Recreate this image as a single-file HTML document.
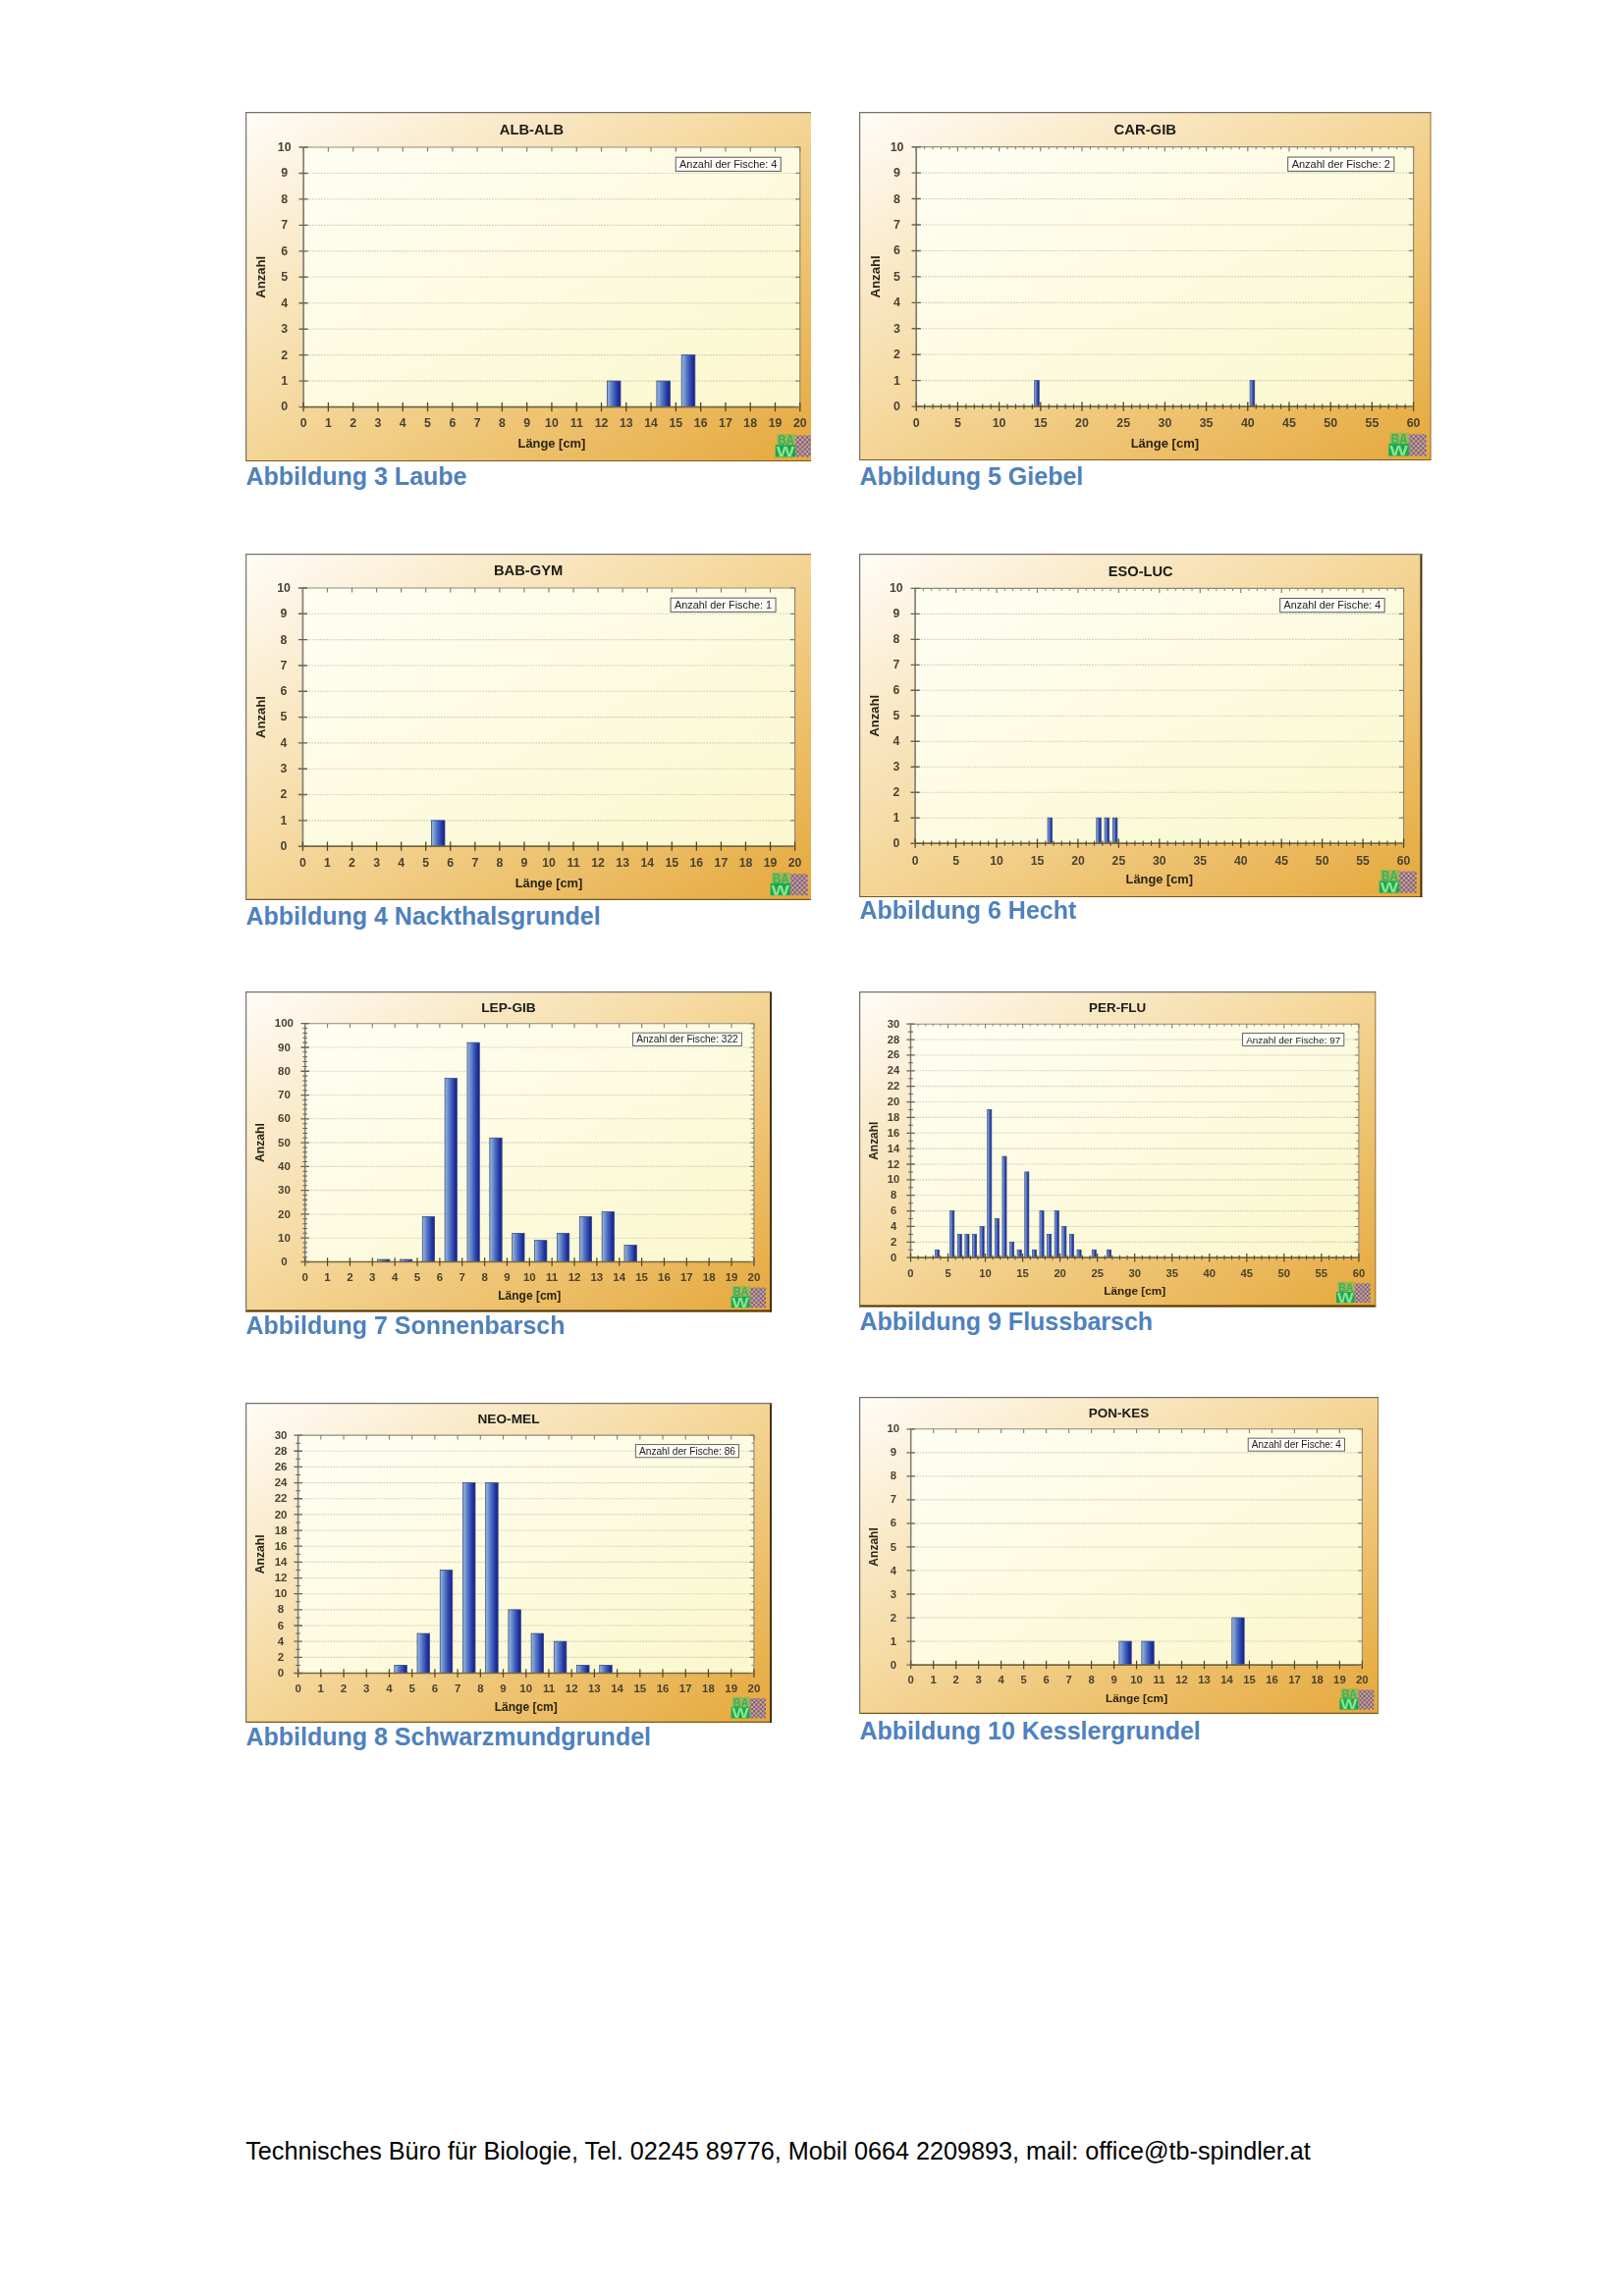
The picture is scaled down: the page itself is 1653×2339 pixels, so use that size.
<!DOCTYPE html>
<html lang="de">
<head>
<meta charset="utf-8">
<title>Längenfrequenzdiagramme</title>
<style>
html,body{margin:0;padding:0;background:#fff;}
body{width:1653px;height:2339px;position:relative;overflow:hidden;font-family:"Liberation Sans",Arial,Helvetica,sans-serif;}
.chart{position:absolute;display:block;overflow:hidden;}
.chart .in{filter:url(#soft);}
.cap{position:absolute;font-size:25px;line-height:25px;font-weight:bold;color:#4f81bd;white-space:nowrap;margin:0;}
.foot{position:absolute;left:250.2px;top:2178.6px;font-size:25.19px;line-height:25px;color:#000;white-space:nowrap;margin:0;}
</style>
</head>
<body>
<svg width="0" height="0" style="position:absolute">
<defs>
<filter id="soft" x="-2%" y="-2%" width="104%" height="104%"><feGaussianBlur stdDeviation="0.55"/></filter>
<linearGradient id="gbg" x1="0" y1="0" x2="1" y2="1">
<stop offset="0" stop-color="#fffdf9"/>
<stop offset="0.5" stop-color="#f4d596"/>
<stop offset="1" stop-color="#e5a83b"/>
</linearGradient>
<linearGradient id="gpl" x1="0" y1="0" x2="1" y2="1">
<stop offset="0" stop-color="#fffef3"/>
<stop offset="0.45" stop-color="#fdfbe2"/>
<stop offset="1" stop-color="#fbf7ce"/>
</linearGradient>
<linearGradient id="gbar" x1="0" y1="0" x2="1" y2="0">
<stop offset="0" stop-color="#9bbce0"/>
<stop offset="0.45" stop-color="#4b6cbf"/>
<stop offset="0.8" stop-color="#2132a2"/>
<stop offset="1" stop-color="#1a2486"/>
</linearGradient>
<pattern id="chk" width="4.8" height="4.8" patternUnits="userSpaceOnUse">
<rect width="4.8" height="4.8" fill="#d9b06a"/>
<rect x="0" y="0" width="2.4" height="2.4" fill="#6d55a5"/>
<rect x="2.4" y="2.4" width="2.4" height="2.4" fill="#6d55a5"/>
</pattern>
<g id="logo">
<rect x="20.4" y="1.4" width="17.6" height="22" fill="url(#chk)"/>
<rect x="1.4" y="0" width="18.8" height="11.4" fill="#3fbf63" opacity="0.4"/>
<rect x="0" y="11.2" width="20.4" height="12.2" fill="#17a955"/>
<text x="2.4" y="10.8" font-size="14.4" font-weight="bold" fill="#35b45c" textLength="16.8" lengthAdjust="spacingAndGlyphs">BA</text>
<text x="1" y="22.8" font-size="15.4" font-weight="bold" fill="#8fe38c" textLength="18.4" lengthAdjust="spacingAndGlyphs">W</text>
</g>
</defs>
</svg>

<svg class="chart" style="left:249.9px;top:114px" width="576.3" height="356.2" viewBox="0 0 576.3 356.2" font-family='"Liberation Sans", Arial, Helvetica, sans-serif'>
<rect x="0" y="0" width="576.3" height="356.2" fill="url(#gbg)"/>
<path d="M0 355.6H576.3" fill="none" stroke="#76581a" stroke-width="1.2"/>
<path d="M0.6 356.2V0.6H576.3" fill="none" stroke="#77726a" stroke-width="1.2"/>
<g class="in">
<rect x="59.1" y="36" width="505.7" height="264.6" fill="url(#gpl)"/>
<path d="M59.1 274.14H564.8M59.1 247.68H564.8M59.1 221.22H564.8M59.1 194.76H564.8M59.1 168.3H564.8M59.1 141.84H564.8M59.1 115.38H564.8M59.1 88.92H564.8M59.1 62.46H564.8" stroke="#a5a593" stroke-width="1.1" stroke-dasharray="1.6 1.4" fill="none" opacity="0.55"/>
<rect x="368.34" y="274.14" width="13.65" height="26.46" fill="url(#gbar)" stroke="#34457f" stroke-width="0.8"/>
<rect x="418.91" y="274.14" width="13.65" height="26.46" fill="url(#gbar)" stroke="#34457f" stroke-width="0.8"/>
<rect x="444.19" y="247.68" width="13.65" height="52.92" fill="url(#gbar)" stroke="#34457f" stroke-width="0.8"/>
<path d="M59.1 36H564.8V300.6" fill="none" stroke="#8f8c7a" stroke-width="1.2"/>
<path d="M59.1 35.4V300.6" fill="none" stroke="#828073" stroke-width="1.7"/>
<path d="M58.25 300.6H565.4" fill="none" stroke="#74683f" stroke-width="1.8"/>
<path d="M59.1 296V305.2M84.38 296V305.2M109.67 296V305.2M134.96 296V305.2M160.24 296V305.2M185.53 296V305.2M210.81 296V305.2M236.1 296V305.2M261.38 296V305.2M286.67 296V305.2M311.95 296V305.2M337.24 296V305.2M362.52 296V305.2M387.81 296V305.2M413.09 296V305.2M438.38 296V305.2M463.66 296V305.2M488.95 296V305.2M514.23 296V305.2M539.52 296V305.2M564.8 296V305.2" stroke="#4f4626" stroke-width="1.3" fill="none"/>
<path d="M54.5 300.6H63.7M54.5 274.14H63.7M54.5 247.68H63.7M54.5 221.22H63.7M54.5 194.76H63.7M54.5 168.3H63.7M54.5 141.84H63.7M54.5 115.38H63.7M54.5 88.92H63.7M54.5 62.46H63.7M54.5 36H63.7" stroke="#66645a" stroke-width="1.4" fill="none"/>
<path d="M59.1 36V40.6M84.38 36V40.6M109.67 36V40.6M134.96 36V40.6M160.24 36V40.6M185.53 36V40.6M210.81 36V40.6M236.1 36V40.6M261.38 36V40.6M286.67 36V40.6M311.95 36V40.6M337.24 36V40.6M362.52 36V40.6M387.81 36V40.6M413.09 36V40.6M438.38 36V40.6M463.66 36V40.6M488.95 36V40.6M514.23 36V40.6M539.52 36V40.6M564.8 36V40.6M560.2 300.6H564.8M560.2 274.14H564.8M560.2 247.68H564.8M560.2 221.22H564.8M560.2 194.76H564.8M560.2 168.3H564.8M560.2 141.84H564.8M560.2 115.38H564.8M560.2 88.92H564.8M560.2 62.46H564.8M560.2 36H564.8" stroke="#85826f" stroke-width="1.2" fill="none"/>
<g font-size="12.31" fill="#4a4332" font-weight="bold">
<g text-anchor="middle">
<text x="59.1" y="320.91">0</text>
<text x="84.38" y="320.91">1</text>
<text x="109.67" y="320.91">2</text>
<text x="134.96" y="320.91">3</text>
<text x="160.24" y="320.91">4</text>
<text x="185.53" y="320.91">5</text>
<text x="210.81" y="320.91">6</text>
<text x="236.1" y="320.91">7</text>
<text x="261.38" y="320.91">8</text>
<text x="286.67" y="320.91">9</text>
<text x="311.95" y="320.91">10</text>
<text x="337.24" y="320.91">11</text>
<text x="362.52" y="320.91">12</text>
<text x="387.81" y="320.91">13</text>
<text x="413.09" y="320.91">14</text>
<text x="438.38" y="320.91">15</text>
<text x="463.66" y="320.91">16</text>
<text x="488.95" y="320.91">17</text>
<text x="514.23" y="320.91">18</text>
<text x="539.52" y="320.91">19</text>
<text x="564.8" y="320.91">20</text>
</g><g text-anchor="middle">
<text x="39.69" y="304.5">0</text>
<text x="39.69" y="278.04">1</text>
<text x="39.69" y="251.58">2</text>
<text x="39.69" y="225.12">3</text>
<text x="39.69" y="198.66">4</text>
<text x="39.69" y="172.2">5</text>
<text x="39.69" y="145.74">6</text>
<text x="39.69" y="119.28">7</text>
<text x="39.69" y="92.82">8</text>
<text x="39.69" y="66.36">9</text>
<text x="39.69" y="39.9">10</text>
</g></g>
<text x="291.45" y="23.09" text-anchor="middle" font-size="14.71" font-weight="bold" fill="#1c1a14">ALB-ALB</text>
<text x="311.95" y="342.12" text-anchor="middle" font-size="12.91" font-weight="bold" fill="#2a2416">Länge [cm]</text>
<text transform="translate(20.31 168.3) rotate(-90)" text-anchor="middle" font-size="13.11" font-weight="bold" fill="#2a2416">Anzahl</text>
<rect x="438.25" y="46.21" width="107.02" height="14.21" fill="#fdfdf6" stroke="#5a5a5a" stroke-width="1"/>
<text x="491.76" y="57.21" text-anchor="middle" font-size="10.91" fill="#222">Anzahl der Fische: 4</text>
<g transform="translate(539.79 328.09) scale(1)"><use href="#logo"/></g>
</g>
</svg>
<svg class="chart" style="left:875.3px;top:114.1px" width="582.5" height="355.3" viewBox="0 0 582.5 355.3" font-family='"Liberation Sans", Arial, Helvetica, sans-serif'>
<rect x="0" y="0" width="582.5" height="355.3" fill="url(#gbg)"/>
<path d="M0 354.7H582.5" fill="none" stroke="#76581a" stroke-width="1.2"/>
<path d="M582 0V355.3" fill="none" stroke="#96763a" stroke-width="1"/>
<path d="M0.6 355.3V0.6H582.5" fill="none" stroke="#77726a" stroke-width="1.2"/>
<g class="in">
<rect x="58.2" y="35.7" width="506.4" height="264.4" fill="url(#gpl)"/>
<path d="M58.2 273.66H564.6M58.2 247.22H564.6M58.2 220.78H564.6M58.2 194.34H564.6M58.2 167.9H564.6M58.2 141.46H564.6M58.2 115.02H564.6M58.2 88.58H564.6M58.2 62.14H564.6" stroke="#a5a593" stroke-width="1.1" stroke-dasharray="1.6 1.4" fill="none" opacity="0.55"/>
<rect x="178.7" y="273.66" width="4.56" height="26.44" fill="url(#gbar)" stroke="#34457f" stroke-width="0.81"/>
<rect x="398.14" y="273.66" width="4.56" height="26.44" fill="url(#gbar)" stroke="#34457f" stroke-width="0.81"/>
<path d="M58.2 35.7H564.6V300.1" fill="none" stroke="#8f8c7a" stroke-width="1.21"/>
<path d="M58.2 35.09V300.1" fill="none" stroke="#828073" stroke-width="1.72"/>
<path d="M57.34 300.1H565.21" fill="none" stroke="#74683f" stroke-width="1.82"/>
<path d="M58.2 295.45V304.75M100.4 295.45V304.75M142.6 295.45V304.75M184.8 295.45V304.75M227 295.45V304.75M269.2 295.45V304.75M311.4 295.45V304.75M353.6 295.45V304.75M395.8 295.45V304.75M438 295.45V304.75M480.2 295.45V304.75M522.4 295.45V304.75M564.6 295.45V304.75" stroke="#4f4626" stroke-width="1.31" fill="none"/>
<path d="M53.55 300.1H62.85M53.55 273.66H62.85M53.55 247.22H62.85M53.55 220.78H62.85M53.55 194.34H62.85M53.55 167.9H62.85M53.55 141.46H62.85M53.55 115.02H62.85M53.55 88.58H62.85M53.55 62.14H62.85M53.55 35.7H62.85" stroke="#66645a" stroke-width="1.42" fill="none"/>
<path d="M58.2 35.7V40.35M100.4 35.7V40.35M142.6 35.7V40.35M184.8 35.7V40.35M227 35.7V40.35M269.2 35.7V40.35M311.4 35.7V40.35M353.6 35.7V40.35M395.8 35.7V40.35M438 35.7V40.35M480.2 35.7V40.35M522.4 35.7V40.35M564.6 35.7V40.35M559.95 300.1H564.6M559.95 273.66H564.6M559.95 247.22H564.6M559.95 220.78H564.6M559.95 194.34H564.6M559.95 167.9H564.6M559.95 141.46H564.6M559.95 115.02H564.6M559.95 88.58H564.6M559.95 62.14H564.6M559.95 35.7H564.6" stroke="#85826f" stroke-width="1.21" fill="none"/>
<path d="M66.64 35.7V38.33M75.08 35.7V38.33M83.52 35.7V38.33M91.96 35.7V38.33M108.84 35.7V38.33M117.28 35.7V38.33M125.72 35.7V38.33M134.16 35.7V38.33M151.04 35.7V38.33M159.48 35.7V38.33M167.92 35.7V38.33M176.36 35.7V38.33M193.24 35.7V38.33M201.68 35.7V38.33M210.12 35.7V38.33M218.56 35.7V38.33M235.44 35.7V38.33M243.88 35.7V38.33M252.32 35.7V38.33M260.76 35.7V38.33M277.64 35.7V38.33M286.08 35.7V38.33M294.52 35.7V38.33M302.96 35.7V38.33M319.84 35.7V38.33M328.28 35.7V38.33M336.72 35.7V38.33M345.16 35.7V38.33M362.04 35.7V38.33M370.48 35.7V38.33M378.92 35.7V38.33M387.36 35.7V38.33M404.24 35.7V38.33M412.68 35.7V38.33M421.12 35.7V38.33M429.56 35.7V38.33M446.44 35.7V38.33M454.88 35.7V38.33M463.32 35.7V38.33M471.76 35.7V38.33M488.64 35.7V38.33M497.08 35.7V38.33M505.52 35.7V38.33M513.96 35.7V38.33M530.84 35.7V38.33M539.28 35.7V38.33M547.72 35.7V38.33M556.16 35.7V38.33" stroke="#85826f" stroke-width="1.01" fill="none"/>
<path d="M66.64 297.47V302.73M75.08 297.47V302.73M83.52 297.47V302.73M91.96 297.47V302.73M108.84 297.47V302.73M117.28 297.47V302.73M125.72 297.47V302.73M134.16 297.47V302.73M151.04 297.47V302.73M159.48 297.47V302.73M167.92 297.47V302.73M176.36 297.47V302.73M193.24 297.47V302.73M201.68 297.47V302.73M210.12 297.47V302.73M218.56 297.47V302.73M235.44 297.47V302.73M243.88 297.47V302.73M252.32 297.47V302.73M260.76 297.47V302.73M277.64 297.47V302.73M286.08 297.47V302.73M294.52 297.47V302.73M302.96 297.47V302.73M319.84 297.47V302.73M328.28 297.47V302.73M336.72 297.47V302.73M345.16 297.47V302.73M362.04 297.47V302.73M370.48 297.47V302.73M378.92 297.47V302.73M387.36 297.47V302.73M404.24 297.47V302.73M412.68 297.47V302.73M421.12 297.47V302.73M429.56 297.47V302.73M446.44 297.47V302.73M454.88 297.47V302.73M463.32 297.47V302.73M471.76 297.47V302.73M488.64 297.47V302.73M497.08 297.47V302.73M505.52 297.47V302.73M513.96 297.47V302.73M530.84 297.47V302.73M539.28 297.47V302.73M547.72 297.47V302.73M556.16 297.47V302.73" stroke="#4f4a33" stroke-width="1.11" fill="none"/>
<g font-size="12.44" fill="#4a4332" font-weight="bold">
<g text-anchor="middle">
<text x="58.2" y="321.44">0</text>
<text x="100.4" y="321.44">5</text>
<text x="142.6" y="321.44">10</text>
<text x="184.8" y="321.44">15</text>
<text x="227" y="321.44">20</text>
<text x="269.2" y="321.44">25</text>
<text x="311.4" y="321.44">30</text>
<text x="353.6" y="321.44">35</text>
<text x="395.8" y="321.44">40</text>
<text x="438" y="321.44">45</text>
<text x="480.2" y="321.44">50</text>
<text x="522.4" y="321.44">55</text>
<text x="564.6" y="321.44">60</text>
</g><g text-anchor="middle">
<text x="38.58" y="304.04">0</text>
<text x="38.58" y="277.6">1</text>
<text x="38.58" y="251.16">2</text>
<text x="38.58" y="224.72">3</text>
<text x="38.58" y="198.28">4</text>
<text x="38.58" y="171.84">5</text>
<text x="38.58" y="145.4">6</text>
<text x="38.58" y="118.96">7</text>
<text x="38.58" y="92.52">8</text>
<text x="38.58" y="66.08">9</text>
<text x="38.58" y="39.64">10</text>
</g></g>
<text x="291.25" y="22.65" text-anchor="middle" font-size="14.87" font-weight="bold" fill="#1c1a14">CAR-GIB</text>
<text x="311.4" y="342.07" text-anchor="middle" font-size="13.05" font-weight="bold" fill="#2a2416">Länge [cm]</text>
<text transform="translate(20.53 167.9) rotate(-90)" text-anchor="middle" font-size="13.25" font-weight="bold" fill="#2a2416">Anzahl</text>
<rect x="436.69" y="46.02" width="108.17" height="14.36" fill="#fdfdf6" stroke="#5a5a5a" stroke-width="1.01"/>
<text x="490.78" y="57.14" text-anchor="middle" font-size="11.02" fill="#222">Anzahl der Fische: 2</text>
<g transform="translate(539.32 326.88) scale(1.01)"><use href="#logo"/></g>
</g>
</svg>
<svg class="chart" style="left:249.9px;top:563.9px" width="576.2" height="352.9" viewBox="0 0 576.2 352.9" font-family='"Liberation Sans", Arial, Helvetica, sans-serif'>
<rect x="0" y="0" width="576.2" height="352.9" fill="url(#gbg)"/>
<path d="M0 352.3H576.2" fill="none" stroke="#76581a" stroke-width="1.2"/>
<path d="M0.6 352.9V0.6H576.2" fill="none" stroke="#77726a" stroke-width="1.2"/>
<g class="in">
<rect x="58.4" y="35" width="501.2" height="263.2" fill="url(#gpl)"/>
<path d="M58.4 271.88H559.6M58.4 245.56H559.6M58.4 219.24H559.6M58.4 192.92H559.6M58.4 166.6H559.6M58.4 140.28H559.6M58.4 113.96H559.6M58.4 87.64H559.6M58.4 61.32H559.6" stroke="#a5a593" stroke-width="1.1" stroke-dasharray="1.6 1.4" fill="none" opacity="0.55"/>
<rect x="189.46" y="271.88" width="13.53" height="26.32" fill="url(#gbar)" stroke="#34457f" stroke-width="0.8"/>
<path d="M58.4 35H559.6V298.2" fill="none" stroke="#8f8c7a" stroke-width="1.2"/>
<path d="M58.4 34.4V298.2" fill="none" stroke="#828073" stroke-width="1.7"/>
<path d="M57.55 298.2H560.2" fill="none" stroke="#74683f" stroke-width="1.8"/>
<path d="M58.4 293.6V302.8M83.46 293.6V302.8M108.52 293.6V302.8M133.58 293.6V302.8M158.64 293.6V302.8M183.7 293.6V302.8M208.76 293.6V302.8M233.82 293.6V302.8M258.88 293.6V302.8M283.94 293.6V302.8M309 293.6V302.8M334.06 293.6V302.8M359.12 293.6V302.8M384.18 293.6V302.8M409.24 293.6V302.8M434.3 293.6V302.8M459.36 293.6V302.8M484.42 293.6V302.8M509.48 293.6V302.8M534.54 293.6V302.8M559.6 293.6V302.8" stroke="#4f4626" stroke-width="1.3" fill="none"/>
<path d="M53.8 298.2H63M53.8 271.88H63M53.8 245.56H63M53.8 219.24H63M53.8 192.92H63M53.8 166.6H63M53.8 140.28H63M53.8 113.96H63M53.8 87.64H63M53.8 61.32H63M53.8 35H63" stroke="#66645a" stroke-width="1.4" fill="none"/>
<path d="M58.4 35V39.6M83.46 35V39.6M108.52 35V39.6M133.58 35V39.6M158.64 35V39.6M183.7 35V39.6M208.76 35V39.6M233.82 35V39.6M258.88 35V39.6M283.94 35V39.6M309 35V39.6M334.06 35V39.6M359.12 35V39.6M384.18 35V39.6M409.24 35V39.6M434.3 35V39.6M459.36 35V39.6M484.42 35V39.6M509.48 35V39.6M534.54 35V39.6M559.6 35V39.6M555 298.2H559.6M555 271.88H559.6M555 245.56H559.6M555 219.24H559.6M555 192.92H559.6M555 166.6H559.6M555 140.28H559.6M555 113.96H559.6M555 87.64H559.6M555 61.32H559.6M555 35H559.6" stroke="#85826f" stroke-width="1.2" fill="none"/>
<g font-size="12.3" fill="#4a4332" font-weight="bold">
<g text-anchor="middle">
<text x="58.4" y="319.31">0</text>
<text x="83.46" y="319.31">1</text>
<text x="108.52" y="319.31">2</text>
<text x="133.58" y="319.31">3</text>
<text x="158.64" y="319.31">4</text>
<text x="183.7" y="319.31">5</text>
<text x="208.76" y="319.31">6</text>
<text x="233.82" y="319.31">7</text>
<text x="258.88" y="319.31">8</text>
<text x="283.94" y="319.31">9</text>
<text x="309" y="319.31">10</text>
<text x="334.06" y="319.31">11</text>
<text x="359.12" y="319.31">12</text>
<text x="384.18" y="319.31">13</text>
<text x="409.24" y="319.31">14</text>
<text x="434.3" y="319.31">15</text>
<text x="459.36" y="319.31">16</text>
<text x="484.42" y="319.31">17</text>
<text x="509.48" y="319.31">18</text>
<text x="534.54" y="319.31">19</text>
<text x="559.6" y="319.31">20</text>
</g><g text-anchor="middle">
<text x="38.99" y="302.1">0</text>
<text x="38.99" y="275.78">1</text>
<text x="38.99" y="249.46">2</text>
<text x="38.99" y="223.14">3</text>
<text x="38.99" y="196.82">4</text>
<text x="38.99" y="170.5">5</text>
<text x="38.99" y="144.18">6</text>
<text x="38.99" y="117.86">7</text>
<text x="38.99" y="91.54">8</text>
<text x="38.99" y="65.22">9</text>
<text x="38.99" y="38.9">10</text>
</g></g>
<text x="288.1" y="22.1" text-anchor="middle" font-size="14.71" font-weight="bold" fill="#1c1a14">BAB-GYM</text>
<text x="309" y="339.71" text-anchor="middle" font-size="12.9" font-weight="bold" fill="#2a2416">Länge [cm]</text>
<text transform="translate(20.31 166.6) rotate(-90)" text-anchor="middle" font-size="13.1" font-weight="bold" fill="#2a2416">Anzahl</text>
<rect x="433.08" y="45.2" width="107" height="14.2" fill="#fdfdf6" stroke="#5a5a5a" stroke-width="1"/>
<text x="486.57" y="56.21" text-anchor="middle" font-size="10.9" fill="#222">Anzahl der Fische: 1</text>
<g transform="translate(534.59 324.79) scale(1)"><use href="#logo"/></g>
</g>
</svg>
<svg class="chart" style="left:875.4px;top:563.9px" width="573.4" height="350.2" viewBox="0 0 573.4 350.2" font-family='"Liberation Sans", Arial, Helvetica, sans-serif'>
<rect x="0" y="0" width="573.4" height="350.2" fill="url(#gbg)"/>
<path d="M0 349.6H573.4" fill="none" stroke="#76581a" stroke-width="1.2"/>
<path d="M572.45 0V350.2" fill="none" stroke="#3b2a10" stroke-width="1.9"/>
<path d="M0.6 350.2V0.6H573.4" fill="none" stroke="#77726a" stroke-width="1.2"/>
<g class="in">
<rect x="57.1" y="35.4" width="497.5" height="259.8" fill="url(#gpl)"/>
<path d="M57.1 269.22H554.6M57.1 243.24H554.6M57.1 217.26H554.6M57.1 191.28H554.6M57.1 165.3H554.6M57.1 139.32H554.6M57.1 113.34H554.6M57.1 87.36H554.6M57.1 61.38H554.6" stroke="#a5a593" stroke-width="1.1" stroke-dasharray="1.6 1.4" fill="none" opacity="0.55"/>
<rect x="192.07" y="269.22" width="4.48" height="25.98" fill="url(#gbar)" stroke="#34457f" stroke-width="0.8"/>
<rect x="241.82" y="269.22" width="4.48" height="25.98" fill="url(#gbar)" stroke="#34457f" stroke-width="0.8"/>
<rect x="250.12" y="269.22" width="4.48" height="25.98" fill="url(#gbar)" stroke="#34457f" stroke-width="0.8"/>
<rect x="258.41" y="269.22" width="4.48" height="25.98" fill="url(#gbar)" stroke="#34457f" stroke-width="0.8"/>
<path d="M57.1 35.4H554.6V295.2" fill="none" stroke="#8f8c7a" stroke-width="1.19"/>
<path d="M57.1 34.8V295.2" fill="none" stroke="#828073" stroke-width="1.69"/>
<path d="M56.25 295.2H555.2" fill="none" stroke="#74683f" stroke-width="1.79"/>
<path d="M57.1 290.62V299.78M98.56 290.62V299.78M140.02 290.62V299.78M181.48 290.62V299.78M222.93 290.62V299.78M264.39 290.62V299.78M305.85 290.62V299.78M347.31 290.62V299.78M388.77 290.62V299.78M430.23 290.62V299.78M471.68 290.62V299.78M513.14 290.62V299.78M554.6 290.62V299.78" stroke="#4f4626" stroke-width="1.29" fill="none"/>
<path d="M52.52 295.2H61.68M52.52 269.22H61.68M52.52 243.24H61.68M52.52 217.26H61.68M52.52 191.28H61.68M52.52 165.3H61.68M52.52 139.32H61.68M52.52 113.34H61.68M52.52 87.36H61.68M52.52 61.38H61.68M52.52 35.4H61.68" stroke="#66645a" stroke-width="1.39" fill="none"/>
<path d="M57.1 35.4V39.98M98.56 35.4V39.98M140.02 35.4V39.98M181.48 35.4V39.98M222.93 35.4V39.98M264.39 35.4V39.98M305.85 35.4V39.98M347.31 35.4V39.98M388.77 35.4V39.98M430.23 35.4V39.98M471.68 35.4V39.98M513.14 35.4V39.98M554.6 35.4V39.98M550.02 295.2H554.6M550.02 269.22H554.6M550.02 243.24H554.6M550.02 217.26H554.6M550.02 191.28H554.6M550.02 165.3H554.6M550.02 139.32H554.6M550.02 113.34H554.6M550.02 87.36H554.6M550.02 61.38H554.6M550.02 35.4H554.6" stroke="#85826f" stroke-width="1.19" fill="none"/>
<path d="M65.39 35.4V37.99M73.68 35.4V37.99M81.98 35.4V37.99M90.27 35.4V37.99M106.85 35.4V37.99M115.14 35.4V37.99M123.43 35.4V37.99M131.73 35.4V37.99M148.31 35.4V37.99M156.6 35.4V37.99M164.89 35.4V37.99M173.18 35.4V37.99M189.77 35.4V37.99M198.06 35.4V37.99M206.35 35.4V37.99M214.64 35.4V37.99M231.23 35.4V37.99M239.52 35.4V37.99M247.81 35.4V37.99M256.1 35.4V37.99M272.68 35.4V37.99M280.98 35.4V37.99M289.27 35.4V37.99M297.56 35.4V37.99M314.14 35.4V37.99M322.43 35.4V37.99M330.73 35.4V37.99M339.02 35.4V37.99M355.6 35.4V37.99M363.89 35.4V37.99M372.18 35.4V37.99M380.48 35.4V37.99M397.06 35.4V37.99M405.35 35.4V37.99M413.64 35.4V37.99M421.93 35.4V37.99M438.52 35.4V37.99M446.81 35.4V37.99M455.1 35.4V37.99M463.39 35.4V37.99M479.97 35.4V37.99M488.27 35.4V37.99M496.56 35.4V37.99M504.85 35.4V37.99M521.43 35.4V37.99M529.72 35.4V37.99M538.02 35.4V37.99M546.31 35.4V37.99" stroke="#85826f" stroke-width="1" fill="none"/>
<path d="M65.39 292.61V297.79M73.68 292.61V297.79M81.98 292.61V297.79M90.27 292.61V297.79M106.85 292.61V297.79M115.14 292.61V297.79M123.43 292.61V297.79M131.73 292.61V297.79M148.31 292.61V297.79M156.6 292.61V297.79M164.89 292.61V297.79M173.18 292.61V297.79M189.77 292.61V297.79M198.06 292.61V297.79M206.35 292.61V297.79M214.64 292.61V297.79M231.23 292.61V297.79M239.52 292.61V297.79M247.81 292.61V297.79M256.1 292.61V297.79M272.68 292.61V297.79M280.98 292.61V297.79M289.27 292.61V297.79M297.56 292.61V297.79M314.14 292.61V297.79M322.43 292.61V297.79M330.73 292.61V297.79M339.02 292.61V297.79M355.6 292.61V297.79M363.89 292.61V297.79M372.18 292.61V297.79M380.48 292.61V297.79M397.06 292.61V297.79M405.35 292.61V297.79M413.64 292.61V297.79M421.93 292.61V297.79M438.52 292.61V297.79M446.81 292.61V297.79M455.1 292.61V297.79M463.39 292.61V297.79M479.97 292.61V297.79M488.27 292.61V297.79M496.56 292.61V297.79M504.85 292.61V297.79M521.43 292.61V297.79M529.72 292.61V297.79M538.02 292.61V297.79M546.31 292.61V297.79" stroke="#4f4a33" stroke-width="1.1" fill="none"/>
<g font-size="12.24" fill="#4a4332" font-weight="bold">
<g text-anchor="middle">
<text x="57.1" y="316.7">0</text>
<text x="98.56" y="316.7">5</text>
<text x="140.02" y="316.7">10</text>
<text x="181.48" y="316.7">15</text>
<text x="222.93" y="316.7">20</text>
<text x="264.39" y="316.7">25</text>
<text x="305.85" y="316.7">30</text>
<text x="347.31" y="316.7">35</text>
<text x="388.77" y="316.7">40</text>
<text x="430.23" y="316.7">45</text>
<text x="471.68" y="316.7">50</text>
<text x="513.14" y="316.7">55</text>
<text x="554.6" y="316.7">60</text>
</g><g text-anchor="middle">
<text x="37.79" y="299.08">0</text>
<text x="37.79" y="273.1">1</text>
<text x="37.79" y="247.12">2</text>
<text x="37.79" y="221.14">3</text>
<text x="37.79" y="195.16">4</text>
<text x="37.79" y="169.18">5</text>
<text x="37.79" y="143.2">6</text>
<text x="37.79" y="117.22">7</text>
<text x="37.79" y="91.24">8</text>
<text x="37.79" y="65.26">9</text>
<text x="37.79" y="39.28">10</text>
</g></g>
<text x="286.7" y="22.56" text-anchor="middle" font-size="14.63" font-weight="bold" fill="#1c1a14">ESO-LUC</text>
<text x="305.85" y="336.51" text-anchor="middle" font-size="12.84" font-weight="bold" fill="#2a2416">Länge [cm]</text>
<text transform="translate(20.21 165.3) rotate(-90)" text-anchor="middle" font-size="13.04" font-weight="bold" fill="#2a2416">Anzahl</text>
<rect x="428.69" y="45.55" width="106.48" height="14.14" fill="#fdfdf6" stroke="#5a5a5a" stroke-width="1"/>
<text x="481.93" y="56.5" text-anchor="middle" font-size="10.85" fill="#222">Anzahl der Fische: 4</text>
<g transform="translate(529.71 322.23) scale(1)"><use href="#logo"/></g>
</g>
</svg>
<svg class="chart" style="left:249.9px;top:1010.3px" width="536" height="326.5" viewBox="0 0 536 326.5" font-family='"Liberation Sans", Arial, Helvetica, sans-serif'>
<rect x="0" y="0" width="536" height="326.5" fill="url(#gbg)"/>
<path d="M0 325.5H536" fill="none" stroke="#4d3304" stroke-width="2"/>
<path d="M535.05 0V326.5" fill="none" stroke="#3b2a10" stroke-width="1.9"/>
<path d="M0.6 326.5V0.6H536" fill="none" stroke="#77726a" stroke-width="1.2"/>
<g class="in">
<rect x="60.7" y="32.7" width="457.2" height="242.8" fill="url(#gpl)"/>
<path d="M60.7 251.22H517.9M60.7 226.94H517.9M60.7 202.66H517.9M60.7 178.38H517.9M60.7 154.1H517.9M60.7 129.82H517.9M60.7 105.54H517.9M60.7 81.26H517.9M60.7 56.98H517.9" stroke="#a5a593" stroke-width="1.1" stroke-dasharray="1.6 1.4" fill="none" opacity="0.55"/>
<rect x="134.54" y="273.07" width="12.34" height="2.43" fill="url(#gbar)" stroke="#34457f" stroke-width="0.74"/>
<rect x="157.4" y="273.07" width="12.34" height="2.43" fill="url(#gbar)" stroke="#34457f" stroke-width="0.74"/>
<rect x="180.26" y="229.37" width="12.34" height="46.13" fill="url(#gbar)" stroke="#34457f" stroke-width="0.74"/>
<rect x="203.12" y="88.54" width="12.34" height="186.96" fill="url(#gbar)" stroke="#34457f" stroke-width="0.74"/>
<rect x="225.98" y="52.12" width="12.34" height="223.38" fill="url(#gbar)" stroke="#34457f" stroke-width="0.74"/>
<rect x="248.84" y="149.24" width="12.34" height="126.26" fill="url(#gbar)" stroke="#34457f" stroke-width="0.74"/>
<rect x="271.7" y="246.36" width="12.34" height="29.14" fill="url(#gbar)" stroke="#34457f" stroke-width="0.74"/>
<rect x="294.56" y="253.65" width="12.34" height="21.85" fill="url(#gbar)" stroke="#34457f" stroke-width="0.74"/>
<rect x="317.42" y="246.36" width="12.34" height="29.14" fill="url(#gbar)" stroke="#34457f" stroke-width="0.74"/>
<rect x="340.28" y="229.37" width="12.34" height="46.13" fill="url(#gbar)" stroke="#34457f" stroke-width="0.74"/>
<rect x="363.14" y="224.51" width="12.34" height="50.99" fill="url(#gbar)" stroke="#34457f" stroke-width="0.74"/>
<rect x="386" y="258.5" width="12.34" height="17" fill="url(#gbar)" stroke="#34457f" stroke-width="0.74"/>
<path d="M60.7 32.7H517.9V275.5" fill="none" stroke="#8f8c7a" stroke-width="1.12"/>
<path d="M60.7 32.14V275.5" fill="none" stroke="#828073" stroke-width="1.58"/>
<path d="M59.91 275.5H518.46" fill="none" stroke="#74683f" stroke-width="1.68"/>
<path d="M60.7 271.22V279.78M83.56 271.22V279.78M106.42 271.22V279.78M129.28 271.22V279.78M152.14 271.22V279.78M175 271.22V279.78M197.86 271.22V279.78M220.72 271.22V279.78M243.58 271.22V279.78M266.44 271.22V279.78M289.3 271.22V279.78M312.16 271.22V279.78M335.02 271.22V279.78M357.88 271.22V279.78M380.74 271.22V279.78M403.6 271.22V279.78M426.46 271.22V279.78M449.32 271.22V279.78M472.18 271.22V279.78M495.04 271.22V279.78M517.9 271.22V279.78" stroke="#4f4626" stroke-width="1.21" fill="none"/>
<path d="M56.42 275.5H64.98M56.42 251.22H64.98M56.42 226.94H64.98M56.42 202.66H64.98M56.42 178.38H64.98M56.42 154.1H64.98M56.42 129.82H64.98M56.42 105.54H64.98M56.42 81.26H64.98M56.42 56.98H64.98M56.42 32.7H64.98" stroke="#66645a" stroke-width="1.3" fill="none"/>
<path d="M58.28 270.64H63.12M58.28 265.79H63.12M58.28 260.93H63.12M58.28 256.08H63.12M58.28 246.36H63.12M58.28 241.51H63.12M58.28 236.65H63.12M58.28 231.8H63.12M58.28 222.08H63.12M58.28 217.23H63.12M58.28 212.37H63.12M58.28 207.52H63.12M58.28 197.8H63.12M58.28 192.95H63.12M58.28 188.09H63.12M58.28 183.24H63.12M58.28 173.52H63.12M58.28 168.67H63.12M58.28 163.81H63.12M58.28 158.96H63.12M58.28 149.24H63.12M58.28 144.39H63.12M58.28 139.53H63.12M58.28 134.68H63.12M58.28 124.96H63.12M58.28 120.11H63.12M58.28 115.25H63.12M58.28 110.4H63.12M58.28 100.68H63.12M58.28 95.83H63.12M58.28 90.97H63.12M58.28 86.12H63.12M58.28 76.4H63.12M58.28 71.55H63.12M58.28 66.69H63.12M58.28 61.84H63.12M58.28 52.12H63.12M58.28 47.27H63.12M58.28 42.41H63.12M58.28 37.56H63.12" stroke="#66645a" stroke-width="1.02" fill="none"/>
<path d="M60.7 32.7V36.98M83.56 32.7V36.98M106.42 32.7V36.98M129.28 32.7V36.98M152.14 32.7V36.98M175 32.7V36.98M197.86 32.7V36.98M220.72 32.7V36.98M243.58 32.7V36.98M266.44 32.7V36.98M289.3 32.7V36.98M312.16 32.7V36.98M335.02 32.7V36.98M357.88 32.7V36.98M380.74 32.7V36.98M403.6 32.7V36.98M426.46 32.7V36.98M449.32 32.7V36.98M472.18 32.7V36.98M495.04 32.7V36.98M517.9 32.7V36.98M513.62 275.5H517.9M513.62 251.22H517.9M513.62 226.94H517.9M513.62 202.66H517.9M513.62 178.38H517.9M513.62 154.1H517.9M513.62 129.82H517.9M513.62 105.54H517.9M513.62 81.26H517.9M513.62 56.98H517.9M513.62 32.7H517.9" stroke="#85826f" stroke-width="1.12" fill="none"/>
<path d="M515.48 270.64H517.9M515.48 265.79H517.9M515.48 260.93H517.9M515.48 256.08H517.9M515.48 246.36H517.9M515.48 241.51H517.9M515.48 236.65H517.9M515.48 231.8H517.9M515.48 222.08H517.9M515.48 217.23H517.9M515.48 212.37H517.9M515.48 207.52H517.9M515.48 197.8H517.9M515.48 192.95H517.9M515.48 188.09H517.9M515.48 183.24H517.9M515.48 173.52H517.9M515.48 168.67H517.9M515.48 163.81H517.9M515.48 158.96H517.9M515.48 149.24H517.9M515.48 144.39H517.9M515.48 139.53H517.9M515.48 134.68H517.9M515.48 124.96H517.9M515.48 120.11H517.9M515.48 115.25H517.9M515.48 110.4H517.9M515.48 100.68H517.9M515.48 95.83H517.9M515.48 90.97H517.9M515.48 86.12H517.9M515.48 76.4H517.9M515.48 71.55H517.9M515.48 66.69H517.9M515.48 61.84H517.9M515.48 52.12H517.9M515.48 47.27H517.9M515.48 42.41H517.9M515.48 37.56H517.9" stroke="#85826f" stroke-width="0.93" fill="none"/>
<g font-size="11.45" fill="#4a4332" font-weight="bold">
<g text-anchor="middle">
<text x="60.7" y="295.13">0</text>
<text x="83.56" y="295.13">1</text>
<text x="106.42" y="295.13">2</text>
<text x="129.28" y="295.13">3</text>
<text x="152.14" y="295.13">4</text>
<text x="175" y="295.13">5</text>
<text x="197.86" y="295.13">6</text>
<text x="220.72" y="295.13">7</text>
<text x="243.58" y="295.13">8</text>
<text x="266.44" y="295.13">9</text>
<text x="289.3" y="295.13">10</text>
<text x="312.16" y="295.13">11</text>
<text x="335.02" y="295.13">12</text>
<text x="357.88" y="295.13">13</text>
<text x="380.74" y="295.13">14</text>
<text x="403.6" y="295.13">15</text>
<text x="426.46" y="295.13">16</text>
<text x="449.32" y="295.13">17</text>
<text x="472.18" y="295.13">18</text>
<text x="495.04" y="295.13">19</text>
<text x="517.9" y="295.13">20</text>
</g><g text-anchor="middle">
<text x="39.4" y="279.13">0</text>
<text x="39.4" y="254.85">10</text>
<text x="39.4" y="230.57">20</text>
<text x="39.4" y="206.29">30</text>
<text x="39.4" y="182.01">40</text>
<text x="39.4" y="157.73">50</text>
<text x="39.4" y="133.45">60</text>
<text x="39.4" y="109.17">70</text>
<text x="39.4" y="84.89">80</text>
<text x="39.4" y="60.61">90</text>
<text x="39.4" y="36.33">100</text>
</g></g>
<text x="268" y="20.7" text-anchor="middle" font-size="13.68" font-weight="bold" fill="#1c1a14">LEP-GIB</text>
<text x="289.3" y="314.12" text-anchor="middle" font-size="12" font-weight="bold" fill="#2a2416">Länge [cm]</text>
<text transform="translate(18.89 154.1) rotate(-90)" text-anchor="middle" font-size="12.19" font-weight="bold" fill="#2a2416">Anzahl</text>
<rect x="394.56" y="42.19" width="110.82" height="13.21" fill="#fdfdf6" stroke="#5a5a5a" stroke-width="0.93"/>
<text x="449.97" y="52.43" text-anchor="middle" font-size="10.14" fill="#222">Anzahl der Fische: 322</text>
<g transform="translate(494.64 300.35) scale(0.93)"><use href="#logo"/></g>
</g>
</svg>
<svg class="chart" style="left:875.3px;top:1010px" width="526.3" height="321.6" viewBox="0 0 526.3 321.6" font-family='"Liberation Sans", Arial, Helvetica, sans-serif'>
<rect x="0" y="0" width="526.3" height="321.6" fill="url(#gbg)"/>
<path d="M0 320.6H526.3" fill="none" stroke="#4d3304" stroke-width="2"/>
<path d="M525.8 0V321.6" fill="none" stroke="#96763a" stroke-width="1"/>
<path d="M0.6 321.6V0.6H526.3" fill="none" stroke="#77726a" stroke-width="1.2"/>
<g class="in">
<rect x="52.5" y="33.2" width="456.4" height="238" fill="url(#gpl)"/>
<path d="M52.5 255.33H508.9M52.5 239.47H508.9M52.5 223.6H508.9M52.5 207.73H508.9M52.5 191.87H508.9M52.5 176H508.9M52.5 160.13H508.9M52.5 144.27H508.9M52.5 128.4H508.9M52.5 112.53H508.9M52.5 96.67H508.9M52.5 80.8H508.9M52.5 64.93H508.9M52.5 49.07H508.9" stroke="#a5a593" stroke-width="1.1" stroke-dasharray="1.6 1.4" fill="none" opacity="0.55"/>
<rect x="77.47" y="263.27" width="4.11" height="7.93" fill="url(#gbar)" stroke="#34457f" stroke-width="0.73"/>
<rect x="92.68" y="223.6" width="4.11" height="47.6" fill="url(#gbar)" stroke="#34457f" stroke-width="0.73"/>
<rect x="100.29" y="247.4" width="4.11" height="23.8" fill="url(#gbar)" stroke="#34457f" stroke-width="0.73"/>
<rect x="107.9" y="247.4" width="4.11" height="23.8" fill="url(#gbar)" stroke="#34457f" stroke-width="0.73"/>
<rect x="115.5" y="247.4" width="4.11" height="23.8" fill="url(#gbar)" stroke="#34457f" stroke-width="0.73"/>
<rect x="123.11" y="239.47" width="4.11" height="31.73" fill="url(#gbar)" stroke="#34457f" stroke-width="0.73"/>
<rect x="130.72" y="120.47" width="4.11" height="150.73" fill="url(#gbar)" stroke="#34457f" stroke-width="0.73"/>
<rect x="138.32" y="231.53" width="4.11" height="39.67" fill="url(#gbar)" stroke="#34457f" stroke-width="0.73"/>
<rect x="145.93" y="168.07" width="4.11" height="103.13" fill="url(#gbar)" stroke="#34457f" stroke-width="0.73"/>
<rect x="153.54" y="255.33" width="4.11" height="15.87" fill="url(#gbar)" stroke="#34457f" stroke-width="0.73"/>
<rect x="161.14" y="263.27" width="4.11" height="7.93" fill="url(#gbar)" stroke="#34457f" stroke-width="0.73"/>
<rect x="168.75" y="183.93" width="4.11" height="87.27" fill="url(#gbar)" stroke="#34457f" stroke-width="0.73"/>
<rect x="176.36" y="263.27" width="4.11" height="7.93" fill="url(#gbar)" stroke="#34457f" stroke-width="0.73"/>
<rect x="183.96" y="223.6" width="4.11" height="47.6" fill="url(#gbar)" stroke="#34457f" stroke-width="0.73"/>
<rect x="191.57" y="247.4" width="4.11" height="23.8" fill="url(#gbar)" stroke="#34457f" stroke-width="0.73"/>
<rect x="199.18" y="223.6" width="4.11" height="47.6" fill="url(#gbar)" stroke="#34457f" stroke-width="0.73"/>
<rect x="206.78" y="239.47" width="4.11" height="31.73" fill="url(#gbar)" stroke="#34457f" stroke-width="0.73"/>
<rect x="214.39" y="247.4" width="4.11" height="23.8" fill="url(#gbar)" stroke="#34457f" stroke-width="0.73"/>
<rect x="222" y="263.27" width="4.11" height="7.93" fill="url(#gbar)" stroke="#34457f" stroke-width="0.73"/>
<rect x="237.21" y="263.27" width="4.11" height="7.93" fill="url(#gbar)" stroke="#34457f" stroke-width="0.73"/>
<rect x="252.42" y="263.27" width="4.11" height="7.93" fill="url(#gbar)" stroke="#34457f" stroke-width="0.73"/>
<path d="M52.5 33.2H508.9V271.2" fill="none" stroke="#8f8c7a" stroke-width="1.1"/>
<path d="M52.5 32.65V271.2" fill="none" stroke="#828073" stroke-width="1.55"/>
<path d="M51.72 271.2H509.45" fill="none" stroke="#74683f" stroke-width="1.64"/>
<path d="M52.5 267V275.4M90.53 267V275.4M128.57 267V275.4M166.6 267V275.4M204.63 267V275.4M242.67 267V275.4M280.7 267V275.4M318.73 267V275.4M356.77 267V275.4M394.8 267V275.4M432.83 267V275.4M470.87 267V275.4M508.9 267V275.4" stroke="#4f4626" stroke-width="1.19" fill="none"/>
<path d="M48.3 271.2H56.7M48.3 255.33H56.7M48.3 239.47H56.7M48.3 223.6H56.7M48.3 207.73H56.7M48.3 191.87H56.7M48.3 176H56.7M48.3 160.13H56.7M48.3 144.27H56.7M48.3 128.4H56.7M48.3 112.53H56.7M48.3 96.67H56.7M48.3 80.8H56.7M48.3 64.93H56.7M48.3 49.07H56.7M48.3 33.2H56.7" stroke="#66645a" stroke-width="1.28" fill="none"/>
<path d="M50.12 263.27H54.88M50.12 247.4H54.88M50.12 231.53H54.88M50.12 215.67H54.88M50.12 199.8H54.88M50.12 183.93H54.88M50.12 168.07H54.88M50.12 152.2H54.88M50.12 136.33H54.88M50.12 120.47H54.88M50.12 104.6H54.88M50.12 88.73H54.88M50.12 72.87H54.88M50.12 57H54.88M50.12 41.13H54.88" stroke="#66645a" stroke-width="1.01" fill="none"/>
<path d="M52.5 33.2V37.4M90.53 33.2V37.4M128.57 33.2V37.4M166.6 33.2V37.4M204.63 33.2V37.4M242.67 33.2V37.4M280.7 33.2V37.4M318.73 33.2V37.4M356.77 33.2V37.4M394.8 33.2V37.4M432.83 33.2V37.4M470.87 33.2V37.4M508.9 33.2V37.4M504.7 271.2H508.9M504.7 255.33H508.9M504.7 239.47H508.9M504.7 223.6H508.9M504.7 207.73H508.9M504.7 191.87H508.9M504.7 176H508.9M504.7 160.13H508.9M504.7 144.27H508.9M504.7 128.4H508.9M504.7 112.53H508.9M504.7 96.67H508.9M504.7 80.8H508.9M504.7 64.93H508.9M504.7 49.07H508.9M504.7 33.2H508.9" stroke="#85826f" stroke-width="1.1" fill="none"/>
<path d="M60.11 33.2V35.58M67.71 33.2V35.58M75.32 33.2V35.58M82.93 33.2V35.58M98.14 33.2V35.58M105.75 33.2V35.58M113.35 33.2V35.58M120.96 33.2V35.58M136.17 33.2V35.58M143.78 33.2V35.58M151.39 33.2V35.58M158.99 33.2V35.58M174.21 33.2V35.58M181.81 33.2V35.58M189.42 33.2V35.58M197.03 33.2V35.58M212.24 33.2V35.58M219.85 33.2V35.58M227.45 33.2V35.58M235.06 33.2V35.58M250.27 33.2V35.58M257.88 33.2V35.58M265.49 33.2V35.58M273.09 33.2V35.58M288.31 33.2V35.58M295.91 33.2V35.58M303.52 33.2V35.58M311.13 33.2V35.58M326.34 33.2V35.58M333.95 33.2V35.58M341.55 33.2V35.58M349.16 33.2V35.58M364.37 33.2V35.58M371.98 33.2V35.58M379.59 33.2V35.58M387.19 33.2V35.58M402.41 33.2V35.58M410.01 33.2V35.58M417.62 33.2V35.58M425.23 33.2V35.58M440.44 33.2V35.58M448.05 33.2V35.58M455.65 33.2V35.58M463.26 33.2V35.58M478.47 33.2V35.58M486.08 33.2V35.58M493.69 33.2V35.58M501.29 33.2V35.58M506.52 263.27H508.9M506.52 247.4H508.9M506.52 231.53H508.9M506.52 215.67H508.9M506.52 199.8H508.9M506.52 183.93H508.9M506.52 168.07H508.9M506.52 152.2H508.9M506.52 136.33H508.9M506.52 120.47H508.9M506.52 104.6H508.9M506.52 88.73H508.9M506.52 72.87H508.9M506.52 57H508.9M506.52 41.13H508.9" stroke="#85826f" stroke-width="0.91" fill="none"/>
<path d="M60.11 268.82V273.58M67.71 268.82V273.58M75.32 268.82V273.58M82.93 268.82V273.58M98.14 268.82V273.58M105.75 268.82V273.58M113.35 268.82V273.58M120.96 268.82V273.58M136.17 268.82V273.58M143.78 268.82V273.58M151.39 268.82V273.58M158.99 268.82V273.58M174.21 268.82V273.58M181.81 268.82V273.58M189.42 268.82V273.58M197.03 268.82V273.58M212.24 268.82V273.58M219.85 268.82V273.58M227.45 268.82V273.58M235.06 268.82V273.58M250.27 268.82V273.58M257.88 268.82V273.58M265.49 268.82V273.58M273.09 268.82V273.58M288.31 268.82V273.58M295.91 268.82V273.58M303.52 268.82V273.58M311.13 268.82V273.58M326.34 268.82V273.58M333.95 268.82V273.58M341.55 268.82V273.58M349.16 268.82V273.58M364.37 268.82V273.58M371.98 268.82V273.58M379.59 268.82V273.58M387.19 268.82V273.58M402.41 268.82V273.58M410.01 268.82V273.58M417.62 268.82V273.58M425.23 268.82V273.58M440.44 268.82V273.58M448.05 268.82V273.58M455.65 268.82V273.58M463.26 268.82V273.58M478.47 268.82V273.58M486.08 268.82V273.58M493.69 268.82V273.58M501.29 268.82V273.58" stroke="#4f4a33" stroke-width="1.01" fill="none"/>
<g font-size="11.24" fill="#4a4332" font-weight="bold">
<g text-anchor="middle">
<text x="52.5" y="290.94">0</text>
<text x="90.53" y="290.94">5</text>
<text x="128.57" y="290.94">10</text>
<text x="166.6" y="290.94">15</text>
<text x="204.63" y="290.94">20</text>
<text x="242.67" y="290.94">25</text>
<text x="280.7" y="290.94">30</text>
<text x="318.73" y="290.94">35</text>
<text x="356.77" y="290.94">40</text>
<text x="394.8" y="290.94">45</text>
<text x="432.83" y="290.94">50</text>
<text x="470.87" y="290.94">55</text>
<text x="508.9" y="290.94">60</text>
</g><g text-anchor="middle">
<text x="35.1" y="274.76">0</text>
<text x="35.1" y="258.9">2</text>
<text x="35.1" y="243.03">4</text>
<text x="35.1" y="227.16">6</text>
<text x="35.1" y="211.3">8</text>
<text x="35.1" y="195.43">10</text>
<text x="35.1" y="179.56">12</text>
<text x="35.1" y="163.7">14</text>
<text x="35.1" y="147.83">16</text>
<text x="35.1" y="131.96">18</text>
<text x="35.1" y="116.1">20</text>
<text x="35.1" y="100.23">22</text>
<text x="35.1" y="84.36">24</text>
<text x="35.1" y="68.5">26</text>
<text x="35.1" y="52.63">28</text>
<text x="35.1" y="36.76">30</text>
</g></g>
<text x="263.15" y="21.41" text-anchor="middle" font-size="13.43" font-weight="bold" fill="#1c1a14">PER-FLU</text>
<text x="280.7" y="309.12" text-anchor="middle" font-size="11.79" font-weight="bold" fill="#2a2416">Länge [cm]</text>
<text transform="translate(18.55 152.2) rotate(-90)" text-anchor="middle" font-size="11.97" font-weight="bold" fill="#2a2416">Anzahl</text>
<rect x="390.56" y="42.52" width="103.27" height="12.97" fill="#fdfdf6" stroke="#5a5a5a" stroke-width="0.91"/>
<text x="442.2" y="52.57" text-anchor="middle" font-size="9.96" fill="#222">Anzahl der Fische: 97</text>
<g transform="translate(486.06 295.92) scale(0.91)"><use href="#logo"/></g>
</g>
</svg>
<svg class="chart" style="left:249.9px;top:1429.1px" width="536" height="325.9" viewBox="0 0 536 325.9" font-family='"Liberation Sans", Arial, Helvetica, sans-serif'>
<rect x="0" y="0" width="536" height="325.9" fill="url(#gbg)"/>
<path d="M0 325.3H536" fill="none" stroke="#76581a" stroke-width="1.2"/>
<path d="M535.05 0V325.9" fill="none" stroke="#3b2a10" stroke-width="1.9"/>
<path d="M0.6 325.9V0.6H536" fill="none" stroke="#77726a" stroke-width="1.2"/>
<g class="in">
<rect x="53.6" y="33.1" width="464.3" height="242.4" fill="url(#gpl)"/>
<path d="M53.6 259.34H517.9M53.6 243.18H517.9M53.6 227.02H517.9M53.6 210.86H517.9M53.6 194.7H517.9M53.6 178.54H517.9M53.6 162.38H517.9M53.6 146.22H517.9M53.6 130.06H517.9M53.6 113.9H517.9M53.6 97.74H517.9M53.6 81.58H517.9M53.6 65.42H517.9M53.6 49.26H517.9" stroke="#a5a593" stroke-width="1.1" stroke-dasharray="1.6 1.4" fill="none" opacity="0.55"/>
<rect x="151.8" y="267.42" width="12.54" height="8.08" fill="url(#gbar)" stroke="#34457f" stroke-width="0.74"/>
<rect x="175.01" y="235.1" width="12.54" height="40.4" fill="url(#gbar)" stroke="#34457f" stroke-width="0.74"/>
<rect x="198.23" y="170.46" width="12.54" height="105.04" fill="url(#gbar)" stroke="#34457f" stroke-width="0.74"/>
<rect x="221.44" y="81.58" width="12.54" height="193.92" fill="url(#gbar)" stroke="#34457f" stroke-width="0.74"/>
<rect x="244.66" y="81.58" width="12.54" height="193.92" fill="url(#gbar)" stroke="#34457f" stroke-width="0.74"/>
<rect x="267.87" y="210.86" width="12.54" height="64.64" fill="url(#gbar)" stroke="#34457f" stroke-width="0.74"/>
<rect x="291.09" y="235.1" width="12.54" height="40.4" fill="url(#gbar)" stroke="#34457f" stroke-width="0.74"/>
<rect x="314.3" y="243.18" width="12.54" height="32.32" fill="url(#gbar)" stroke="#34457f" stroke-width="0.74"/>
<rect x="337.52" y="267.42" width="12.54" height="8.08" fill="url(#gbar)" stroke="#34457f" stroke-width="0.74"/>
<rect x="360.73" y="267.42" width="12.54" height="8.08" fill="url(#gbar)" stroke="#34457f" stroke-width="0.74"/>
<path d="M53.6 33.1H517.9V275.5" fill="none" stroke="#8f8c7a" stroke-width="1.12"/>
<path d="M53.6 32.54V275.5" fill="none" stroke="#828073" stroke-width="1.58"/>
<path d="M52.81 275.5H518.46" fill="none" stroke="#74683f" stroke-width="1.68"/>
<path d="M53.6 271.22V279.78M76.81 271.22V279.78M100.03 271.22V279.78M123.24 271.22V279.78M146.46 271.22V279.78M169.67 271.22V279.78M192.89 271.22V279.78M216.1 271.22V279.78M239.32 271.22V279.78M262.53 271.22V279.78M285.75 271.22V279.78M308.96 271.22V279.78M332.18 271.22V279.78M355.39 271.22V279.78M378.61 271.22V279.78M401.82 271.22V279.78M425.04 271.22V279.78M448.25 271.22V279.78M471.47 271.22V279.78M494.68 271.22V279.78M517.9 271.22V279.78" stroke="#4f4626" stroke-width="1.21" fill="none"/>
<path d="M49.32 275.5H57.88M49.32 259.34H57.88M49.32 243.18H57.88M49.32 227.02H57.88M49.32 210.86H57.88M49.32 194.7H57.88M49.32 178.54H57.88M49.32 162.38H57.88M49.32 146.22H57.88M49.32 130.06H57.88M49.32 113.9H57.88M49.32 97.74H57.88M49.32 81.58H57.88M49.32 65.42H57.88M49.32 49.26H57.88M49.32 33.1H57.88" stroke="#66645a" stroke-width="1.3" fill="none"/>
<path d="M51.18 267.42H56.02M51.18 251.26H56.02M51.18 235.1H56.02M51.18 218.94H56.02M51.18 202.78H56.02M51.18 186.62H56.02M51.18 170.46H56.02M51.18 154.3H56.02M51.18 138.14H56.02M51.18 121.98H56.02M51.18 105.82H56.02M51.18 89.66H56.02M51.18 73.5H56.02M51.18 57.34H56.02M51.18 41.18H56.02" stroke="#66645a" stroke-width="1.02" fill="none"/>
<path d="M53.6 33.1V37.38M76.81 33.1V37.38M100.03 33.1V37.38M123.24 33.1V37.38M146.46 33.1V37.38M169.67 33.1V37.38M192.89 33.1V37.38M216.1 33.1V37.38M239.32 33.1V37.38M262.53 33.1V37.38M285.75 33.1V37.38M308.96 33.1V37.38M332.18 33.1V37.38M355.39 33.1V37.38M378.61 33.1V37.38M401.82 33.1V37.38M425.04 33.1V37.38M448.25 33.1V37.38M471.47 33.1V37.38M494.68 33.1V37.38M517.9 33.1V37.38M513.62 275.5H517.9M513.62 259.34H517.9M513.62 243.18H517.9M513.62 227.02H517.9M513.62 210.86H517.9M513.62 194.7H517.9M513.62 178.54H517.9M513.62 162.38H517.9M513.62 146.22H517.9M513.62 130.06H517.9M513.62 113.9H517.9M513.62 97.74H517.9M513.62 81.58H517.9M513.62 65.42H517.9M513.62 49.26H517.9M513.62 33.1H517.9" stroke="#85826f" stroke-width="1.12" fill="none"/>
<path d="M515.48 267.42H517.9M515.48 251.26H517.9M515.48 235.1H517.9M515.48 218.94H517.9M515.48 202.78H517.9M515.48 186.62H517.9M515.48 170.46H517.9M515.48 154.3H517.9M515.48 138.14H517.9M515.48 121.98H517.9M515.48 105.82H517.9M515.48 89.66H517.9M515.48 73.5H517.9M515.48 57.34H517.9M515.48 41.18H517.9" stroke="#85826f" stroke-width="0.93" fill="none"/>
<g font-size="11.45" fill="#4a4332" font-weight="bold">
<g text-anchor="middle">
<text x="53.6" y="294.67">0</text>
<text x="76.81" y="294.67">1</text>
<text x="100.03" y="294.67">2</text>
<text x="123.24" y="294.67">3</text>
<text x="146.46" y="294.67">4</text>
<text x="169.67" y="294.67">5</text>
<text x="192.89" y="294.67">6</text>
<text x="216.1" y="294.67">7</text>
<text x="239.32" y="294.67">8</text>
<text x="262.53" y="294.67">9</text>
<text x="285.75" y="294.67">10</text>
<text x="308.96" y="294.67">11</text>
<text x="332.18" y="294.67">12</text>
<text x="355.39" y="294.67">13</text>
<text x="378.61" y="294.67">14</text>
<text x="401.82" y="294.67">15</text>
<text x="425.04" y="294.67">16</text>
<text x="448.25" y="294.67">17</text>
<text x="471.47" y="294.67">18</text>
<text x="494.68" y="294.67">19</text>
<text x="517.9" y="294.67">20</text>
</g><g text-anchor="middle">
<text x="36" y="279.13">0</text>
<text x="36" y="262.97">2</text>
<text x="36" y="246.81">4</text>
<text x="36" y="230.65">6</text>
<text x="36" y="214.49">8</text>
<text x="36" y="198.33">10</text>
<text x="36" y="182.17">12</text>
<text x="36" y="166.01">14</text>
<text x="36" y="149.85">16</text>
<text x="36" y="133.69">18</text>
<text x="36" y="117.53">20</text>
<text x="36" y="101.37">22</text>
<text x="36" y="85.21">24</text>
<text x="36" y="69.05">26</text>
<text x="36" y="52.89">28</text>
<text x="36" y="36.73">30</text>
</g></g>
<text x="268" y="21.1" text-anchor="middle" font-size="13.68" font-weight="bold" fill="#1c1a14">NEO-MEL</text>
<text x="285.75" y="314.12" text-anchor="middle" font-size="12" font-weight="bold" fill="#2a2416">Länge [cm]</text>
<text transform="translate(18.89 154.3) rotate(-90)" text-anchor="middle" font-size="12.19" font-weight="bold" fill="#2a2416">Anzahl</text>
<rect x="397.38" y="42.59" width="105.18" height="13.21" fill="#fdfdf6" stroke="#5a5a5a" stroke-width="0.93"/>
<text x="449.97" y="52.83" text-anchor="middle" font-size="10.14" fill="#222">Anzahl der Fische: 86</text>
<g transform="translate(494.64 299.75) scale(0.93)"><use href="#logo"/></g>
</g>
</svg>
<svg class="chart" style="left:875.3px;top:1423px" width="529.1" height="322.9" viewBox="0 0 529.1 322.9" font-family='"Liberation Sans", Arial, Helvetica, sans-serif'>
<rect x="0" y="0" width="529.1" height="322.9" fill="url(#gbg)"/>
<path d="M0 322.3H529.1" fill="none" stroke="#76581a" stroke-width="1.2"/>
<path d="M528.6 0V322.9" fill="none" stroke="#96763a" stroke-width="1"/>
<path d="M0.6 322.9V0.6H529.1" fill="none" stroke="#77726a" stroke-width="1.2"/>
<g class="in">
<rect x="52.7" y="32.8" width="459.7" height="240.3" fill="url(#gpl)"/>
<path d="M52.7 249.07H512.4M52.7 225.04H512.4M52.7 201.01H512.4M52.7 176.98H512.4M52.7 152.95H512.4M52.7 128.92H512.4M52.7 104.89H512.4M52.7 80.86H512.4M52.7 56.83H512.4" stroke="#a5a593" stroke-width="1.1" stroke-dasharray="1.6 1.4" fill="none" opacity="0.55"/>
<rect x="264.85" y="249.07" width="12.41" height="24.03" fill="url(#gbar)" stroke="#34457f" stroke-width="0.73"/>
<rect x="287.84" y="249.07" width="12.41" height="24.03" fill="url(#gbar)" stroke="#34457f" stroke-width="0.73"/>
<rect x="379.78" y="225.04" width="12.41" height="48.06" fill="url(#gbar)" stroke="#34457f" stroke-width="0.73"/>
<path d="M52.7 32.8H512.4V273.1" fill="none" stroke="#8f8c7a" stroke-width="1.1"/>
<path d="M52.7 32.25V273.1" fill="none" stroke="#828073" stroke-width="1.56"/>
<path d="M51.92 273.1H512.95" fill="none" stroke="#74683f" stroke-width="1.65"/>
<path d="M52.7 268.87V277.33M75.69 268.87V277.33M98.67 268.87V277.33M121.66 268.87V277.33M144.64 268.87V277.33M167.63 268.87V277.33M190.61 268.87V277.33M213.6 268.87V277.33M236.58 268.87V277.33M259.57 268.87V277.33M282.55 268.87V277.33M305.54 268.87V277.33M328.52 268.87V277.33M351.51 268.87V277.33M374.49 268.87V277.33M397.48 268.87V277.33M420.46 268.87V277.33M443.45 268.87V277.33M466.43 268.87V277.33M489.42 268.87V277.33M512.4 268.87V277.33" stroke="#4f4626" stroke-width="1.19" fill="none"/>
<path d="M48.47 273.1H56.93M48.47 249.07H56.93M48.47 225.04H56.93M48.47 201.01H56.93M48.47 176.98H56.93M48.47 152.95H56.93M48.47 128.92H56.93M48.47 104.89H56.93M48.47 80.86H56.93M48.47 56.83H56.93M48.47 32.8H56.93" stroke="#66645a" stroke-width="1.29" fill="none"/>
<path d="M52.7 32.8V37.03M75.69 32.8V37.03M98.67 32.8V37.03M121.66 32.8V37.03M144.64 32.8V37.03M167.63 32.8V37.03M190.61 32.8V37.03M213.6 32.8V37.03M236.58 32.8V37.03M259.57 32.8V37.03M282.55 32.8V37.03M305.54 32.8V37.03M328.52 32.8V37.03M351.51 32.8V37.03M374.49 32.8V37.03M397.48 32.8V37.03M420.46 32.8V37.03M443.45 32.8V37.03M466.43 32.8V37.03M489.42 32.8V37.03M512.4 32.8V37.03M508.17 273.1H512.4M508.17 249.07H512.4M508.17 225.04H512.4M508.17 201.01H512.4M508.17 176.98H512.4M508.17 152.95H512.4M508.17 128.92H512.4M508.17 104.89H512.4M508.17 80.86H512.4M508.17 56.83H512.4M508.17 32.8H512.4" stroke="#85826f" stroke-width="1.1" fill="none"/>
<g font-size="11.3" fill="#4a4332" font-weight="bold">
<g text-anchor="middle">
<text x="52.7" y="291.93">0</text>
<text x="75.69" y="291.93">1</text>
<text x="98.67" y="291.93">2</text>
<text x="121.66" y="291.93">3</text>
<text x="144.64" y="291.93">4</text>
<text x="167.63" y="291.93">5</text>
<text x="190.61" y="291.93">6</text>
<text x="213.6" y="291.93">7</text>
<text x="236.58" y="291.93">8</text>
<text x="259.57" y="291.93">9</text>
<text x="282.55" y="291.93">10</text>
<text x="305.54" y="291.93">11</text>
<text x="328.52" y="291.93">12</text>
<text x="351.51" y="291.93">13</text>
<text x="374.49" y="291.93">14</text>
<text x="397.48" y="291.93">15</text>
<text x="420.46" y="291.93">16</text>
<text x="443.45" y="291.93">17</text>
<text x="466.43" y="291.93">18</text>
<text x="489.42" y="291.93">19</text>
<text x="512.4" y="291.93">20</text>
</g><g text-anchor="middle">
<text x="34.88" y="276.68">0</text>
<text x="34.88" y="252.65">1</text>
<text x="34.88" y="228.62">2</text>
<text x="34.88" y="204.59">3</text>
<text x="34.88" y="180.56">4</text>
<text x="34.88" y="156.53">5</text>
<text x="34.88" y="132.5">6</text>
<text x="34.88" y="108.47">7</text>
<text x="34.88" y="84.44">8</text>
<text x="34.88" y="60.41">9</text>
<text x="34.88" y="36.38">10</text>
</g></g>
<text x="264.55" y="20.95" text-anchor="middle" font-size="13.5" font-weight="bold" fill="#1c1a14">PON-KES</text>
<text x="282.55" y="311.22" text-anchor="middle" font-size="11.85" font-weight="bold" fill="#2a2416">Länge [cm]</text>
<text transform="translate(18.65 152.95) rotate(-90)" text-anchor="middle" font-size="12.03" font-weight="bold" fill="#2a2416">Anzahl</text>
<rect x="396.22" y="42.17" width="98.25" height="13.04" fill="#fdfdf6" stroke="#5a5a5a" stroke-width="0.92"/>
<text x="445.34" y="52.27" text-anchor="middle" font-size="10.01" fill="#222">Anzahl der Fische: 4</text>
<g transform="translate(489.44 297.09) scale(0.92)"><use href="#logo"/></g>
</g>
</svg>
<p class="cap" style="left:250.5px;top:473.4px">Abbildung 3 Laube</p>
<p class="cap" style="left:875.5px;top:473.4px">Abbildung 5 Giebel</p>
<p class="cap" style="left:250.5px;top:920.8px">Abbildung 4 Nackthalsgrundel</p>
<p class="cap" style="left:875.5px;top:915.4px">Abbildung 6 Hecht</p>
<p class="cap" style="left:250.5px;top:1338.3px">Abbildung 7 Sonnenbarsch</p>
<p class="cap" style="left:875.5px;top:1333.7px">Abbildung 9 Flussbarsch</p>
<p class="cap" style="left:250.5px;top:1757.1px">Abbildung 8 Schwarzmundgrundel</p>
<p class="cap" style="left:875.5px;top:1750.9px">Abbildung 10 Kesslergrundel</p>
<p class="foot">Technisches Büro für Biologie, Tel. 02245 89776, Mobil 0664 2209893, mail: office@tb-spindler.at</p>
</body>
</html>
